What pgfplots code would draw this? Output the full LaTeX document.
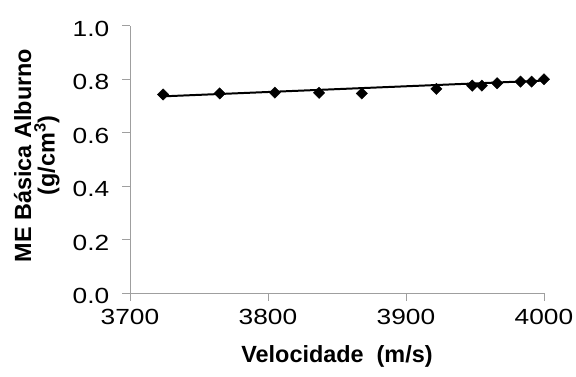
\documentclass[border=0pt]{standalone}
\usepackage{pgfplots}
\pgfplotsset{compat=1.18}
\usepackage{fontspec}
\setmainfont{Liberation Sans}
\begin{document}
\begin{tikzpicture}
\path[use as bounding box] (-130bp,-83.7bp) rectangle (446bp,293.3bp);
\begin{axis}[
  at={(0,0)}, anchor=south west,
  scale only axis,
  width=414bp, height=267.6bp,
  xmin=3700, xmax=4000,
  ymin=0, ymax=1.0,
  xtick={3700,3800,3900,4000},
  ytick={0,0.2,...,1.0},
  axis lines=left,
  axis line style={draw=gray!75, line width=0.9pt, -},
  every tick/.style={draw=gray!75, line width=0.9pt},
  major tick length=7.5bp,
  tick align=outside,
  xtick pos=bottom, ytick pos=left,
  /pgf/number format/assume math mode=true,
  tick label style={font=\fontsize{22}{25}\selectfont},
  xticklabel style={yshift=-5bp, xscale=1.2, /pgf/number format/.cd, 1000 sep={}},
  yticklabel style={xshift=-9bp, yshift=-3bp, xscale=1.2, /pgf/number format/.cd, fixed, fixed zerofill, precision=1},
  xlabel={\textbf{Velocidade\ \ (m/s)}},
  ylabel={\textbf{ME Básica Alburno}\\\textbf{(g/cm\textsuperscript{3})}},
  label style={font=\fontsize{23.5}{23.5}\selectfont},
  ylabel style={align=center, at={(axis description cs:-0.225,0.515)}, anchor=center},
  xlabel style={at={(axis description cs:0.5,-0.235)}, anchor=center},
  clip=false,
]
% measured density against velocity
\addplot[only marks, mark=square*, mark size=4bp, mark options={rotate=45}, black] coordinates {
  (3724,0.743) (3765,0.747) (3805,0.750) (3837,0.749) (3868,0.747)
  (3922,0.764) (3948,0.776) (3955,0.776) (3966,0.785) (3983,0.791)
  (3991,0.791) (4000,0.800)
};
% linear trend line
\addplot[black, line width=2pt] coordinates {(3724,0.736) (4000,0.795)};
\end{axis}
\end{tikzpicture}
\end{document}
